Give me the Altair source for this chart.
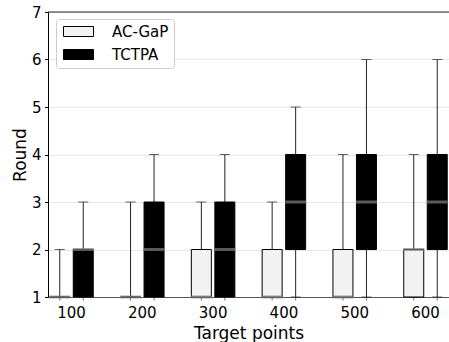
import altair as alt
import pandas as pd

# Box-plot summaries (min, Q1, median, Q3, max) per target size
targets = ["100", "200", "300", "400", "500", "600"]
series_names = ["AC-GaP", "TCTPA"]

ac_min = [1, 1, 1, 1, 1, 1]
ac_q1 = [1, 1, 1, 1, 1, 1]
ac_med = [1, 1, 1, 1, 1, 2]
ac_q3 = [1, 1, 2, 2, 2, 2]
ac_max = [2, 3, 3, 3, 4, 4]

tc_min = [1, 1, 1, 1, 1, 1]
tc_q1 = [1, 1, 1, 2, 2, 2]
tc_med = [2, 2, 2, 3, 3, 3]
tc_q3 = [2, 3, 3, 4, 4, 4]
tc_max = [3, 4, 4, 5, 6, 6]

y_ticks = [1, 2, 3, 4, 5, 6, 7]

rows = []
for name, mn, q1, md, q3, mx in [
    ("AC-GaP", ac_min, ac_q1, ac_med, ac_q3, ac_max),
    ("TCTPA", tc_min, tc_q1, tc_med, tc_q3, tc_max),
]:
    for i, t in enumerate(targets):
        rows.append(dict(target=t, series=name, lo=mn[i], q1=q1[i],
                         med=md[i], q3=q3[i], hi=mx[i]))
df = pd.DataFrame(rows)

FONT = "DejaVu Sans"

x_enc = alt.X(
    "target:N",
    sort=targets,
    scale=alt.Scale(paddingInner=0.336, paddingOuter=0),
    axis=alt.Axis(
        title="Target points",
        titleFont=FONT, titleFontSize=17, titleFontWeight="normal",
        titleColor="black", titleY=41, titleBaseline="alphabetic",
        labelFont=FONT, labelFontSize=15, labelColor="black",
        labelAngle=0, labelBaseline="alphabetic", labelPadding=20.5,
        ticks=False, domainColor="#555555", domainWidth=1, grid=False,
    ),
)
xo_enc = alt.XOffset(
    "series:N",
    scale=alt.Scale(domain=series_names, paddingInner=0, paddingOuter=0),
)
y_scale = alt.Scale(domain=[1, 7], nice=False, zero=False)
y_axis = alt.Axis(
    title="Round", values=y_ticks,
    titleFont=FONT, titleFontSize=17, titleFontWeight="normal",
    titleColor="black", titleX=-23, titleBaseline="alphabetic",
    labelFont=FONT, labelFontSize=15, labelColor="black", labelPadding=3.5,
    tickSize=3.5, tickColor="black", domainColor="black", domainWidth=1,
    grid=True, gridColor="#e6e6e6", gridWidth=1,
)

base = alt.Chart(df)

whisker = base.mark_rule(color="#222222", strokeWidth=1).encode(
    x=x_enc, xOffset=xo_enc,
    y=alt.Y("lo:Q", scale=y_scale, axis=y_axis),
    y2="hi:Q",
)
cap_hi = base.mark_tick(color="#222222", size=10, thickness=1).encode(
    x=x_enc, xOffset=xo_enc, y=alt.Y("hi:Q", scale=y_scale),
)
cap_lo = base.mark_tick(color="#222222", size=10, thickness=1).encode(
    x=x_enc, xOffset=xo_enc, y=alt.Y("lo:Q", scale=y_scale),
)
xtick = base.mark_tick(color="#333333", orient="vertical", size=3.5,
                       thickness=1, yOffset=1.75, clip=False).encode(
    x=x_enc, xOffset=xo_enc, y=alt.datum(1, scale=y_scale),
)

legend_path = "M-1,-1H5V1H-1Z"
box = base.mark_bar(size=20, stroke="black", strokeWidth=1).encode(
    x=x_enc, xOffset=xo_enc,
    y=alt.Y("q1:Q", scale=y_scale),
    y2="q3:Q",
    fill=alt.Fill(
        "series:N",
        scale=alt.Scale(domain=series_names, range=["#f2f2f2", "#000000"]),
        legend=alt.Legend(
            title=None, orient="none", legendX=8, legendY=7,
            symbolType=legend_path, symbolSize=100,
            symbolStrokeColor="black", symbolStrokeWidth=1,
            symbolOpacity=1,
            labelFont=FONT, labelFontSize=15, labelColor="black",
            labelOffset=36, padding=5, rowPadding=7,
            strokeColor="#cccccc", fillColor="white", cornerRadius=3,
        ),
    ),
)
median = base.mark_tick(color="#808080", size=21, thickness=3).encode(
    x=x_enc, xOffset=xo_enc, y=alt.Y("med:Q", scale=y_scale),
)
top_spine = alt.Chart(pd.DataFrame({"v": [7]})).mark_rule(
    color="#222222", strokeWidth=1
).encode(y=alt.Y("v:Q", scale=y_scale))

chart = alt.layer(
    whisker, cap_hi, cap_lo, xtick, box, median, top_spine
).properties(
    width=401, height=285,
    autosize=alt.AutoSizeParams(type="none"),
    padding={"left": 48, "top": 12, "right": 0, "bottom": 45},
).configure_view(stroke=None).configure(background="white")

chart.save("out.html", embed_options={"renderer": "svg", "actions": False})
